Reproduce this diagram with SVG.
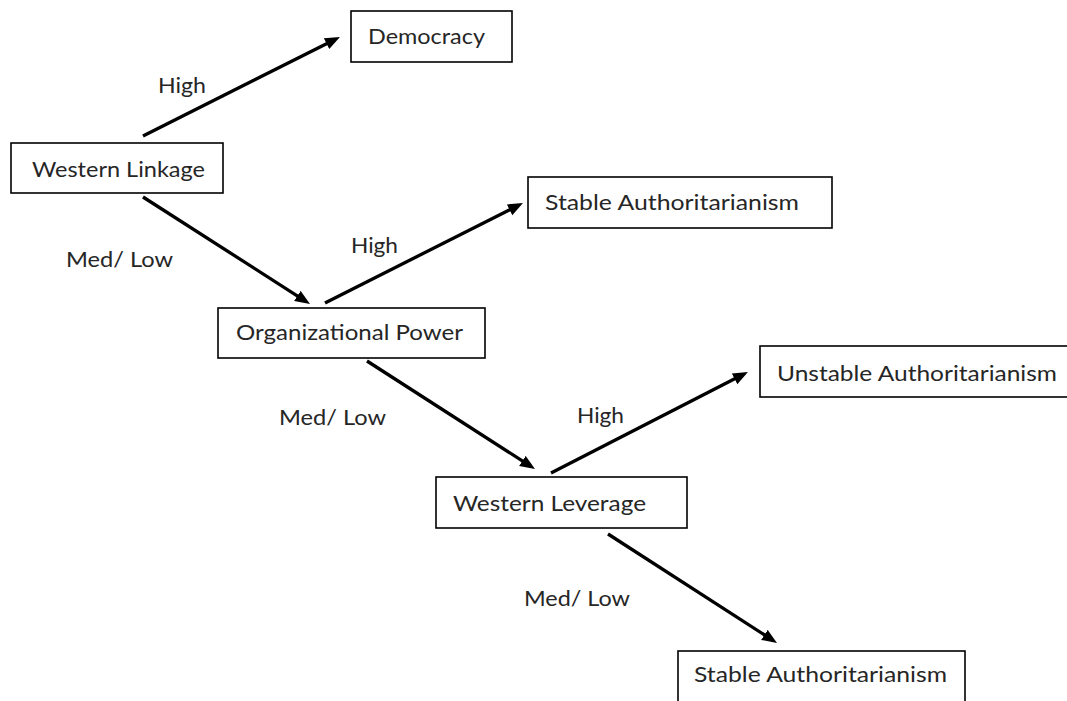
<svg xmlns="http://www.w3.org/2000/svg" width="1067" height="701" viewBox="0 0 1067 701">
  <defs>
    <marker id="arrow" markerUnits="userSpaceOnUse" markerWidth="17" markerHeight="13" refX="10" refY="6" orient="auto">
      <path d="M0,0 L15,6 L0,12 z" fill="#000"/>
    </marker>
  </defs>
  <style>
    .box { fill: #fff; stroke: #000; stroke-width: 1.6; }
    .lbl { font-family: Lato, "Liberation Sans", sans-serif; font-size: 21.5px; fill: #262626; }
    .edge { stroke: #000; stroke-width: 3.3; fill: none; marker-end: url(#arrow); }
  </style>
  <rect width="1067" height="701" fill="#fff"/>

  <g id="connectors">
    <line class="edge" x1="143" y1="136" x2="335.5" y2="39.2"/>
    <line class="edge" x1="143" y1="197" x2="305.8" y2="301.3"/>
    <line class="edge" x1="325" y1="303" x2="518.5" y2="205.3"/>
    <line class="edge" x1="367" y1="361" x2="530.8" y2="466.3"/>
    <line class="edge" x1="551" y1="473" x2="743.5" y2="374.3"/>
    <line class="edge" x1="608" y1="534" x2="772.8" y2="640.3"/>
  </g>

  <g id="edge-labels">
    <text class="lbl" x="158" y="93" textLength="48" lengthAdjust="spacingAndGlyphs">High</text>
    <text class="lbl" x="66" y="267" textLength="107" lengthAdjust="spacingAndGlyphs">Med/ Low</text>
    <text class="lbl" x="351" y="253" textLength="47" lengthAdjust="spacingAndGlyphs">High</text>
    <text class="lbl" x="279" y="425" textLength="107" lengthAdjust="spacingAndGlyphs">Med/ Low</text>
    <text class="lbl" x="577" y="423" textLength="47" lengthAdjust="spacingAndGlyphs">High</text>
    <text class="lbl" x="524" y="606" textLength="106" lengthAdjust="spacingAndGlyphs">Med/ Low</text>
  </g>

  <g id="node-democracy">
    <rect class="box" x="351" y="11" width="161" height="51"/>
    <text class="lbl" x="368" y="44" textLength="117" lengthAdjust="spacingAndGlyphs">Democracy</text>
  </g>
  <g id="node-western-linkage">
    <rect class="box" x="11" y="143" width="212" height="50"/>
    <text class="lbl" x="32" y="177" textLength="173" lengthAdjust="spacingAndGlyphs">Western Linkage</text>
  </g>
  <g id="node-stable-auth-1">
    <rect class="box" x="528" y="177" width="304" height="51"/>
    <text class="lbl" x="545" y="210" textLength="254" lengthAdjust="spacingAndGlyphs">Stable Authoritarianism</text>
  </g>
  <g id="node-organizational-power">
    <rect class="box" x="218" y="308" width="267" height="50"/>
    <text class="lbl" x="236" y="340" textLength="227" lengthAdjust="spacingAndGlyphs">Organizational Power</text>
  </g>
  <g id="node-unstable-auth">
    <rect class="box" x="760" y="346" width="320" height="51"/>
    <text class="lbl" x="777" y="381" textLength="280" lengthAdjust="spacingAndGlyphs">Unstable Authoritarianism</text>
  </g>
  <g id="node-western-leverage">
    <rect class="box" x="436" y="477" width="251" height="51"/>
    <text class="lbl" x="453" y="511" textLength="193" lengthAdjust="spacingAndGlyphs">Western Leverage</text>
  </g>
  <g id="node-stable-auth-2">
    <rect class="box" x="678" y="651" width="287" height="60"/>
    <text class="lbl" x="694" y="682" textLength="253" lengthAdjust="spacingAndGlyphs">Stable Authoritarianism</text>
  </g>
</svg>
